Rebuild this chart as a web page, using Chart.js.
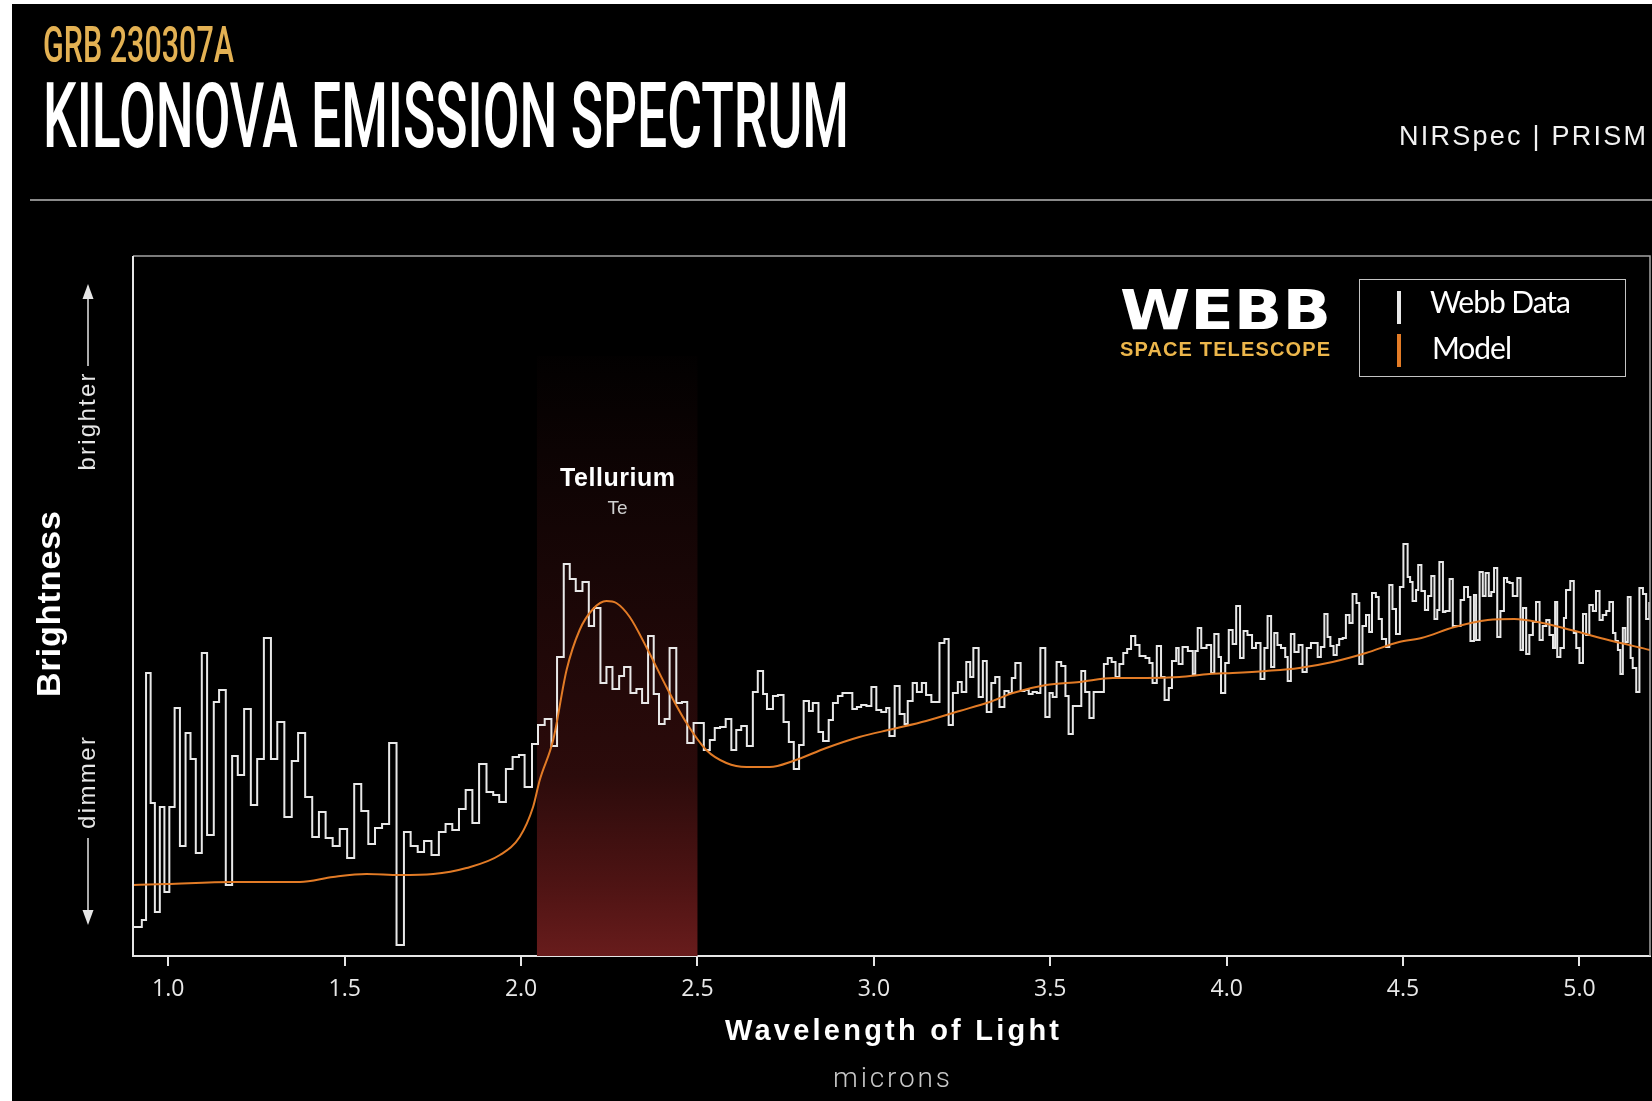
<!DOCTYPE html>
<html>
<head>
<meta charset="utf-8">
<title>Kilonova Emission Spectrum</title>
<script src="https://cdn.jsdelivr.net/npm/chart.js@4.4.1/dist/chart.umd.min.js"></script>
<style>
  html, body { margin: 0; padding: 0; width: 1652px; height: 1101px; overflow: hidden; background: #fff; }
  #panel { position: absolute; left: 12px; top: 4px; width: 1640px; height: 1097px; background: #000; }
  #chart { position: absolute; left: 0; top: 0; }
  .txt { position: absolute; white-space: nowrap; display: inline-block; }
  #rule { position: absolute; left: 30px; top: 199px; width: 1622px; height: 1.5px; background: #8a8a8a; }
  #legend { position: absolute; left: 1359px; top: 279px; width: 267px; height: 98px; box-sizing: border-box; border: 1.5px solid #c4c4c4; }
  .bar { position: absolute; left: 1397px; width: 4px; height: 33px; }
  #arrows { position: absolute; left: 0; top: 0; }
</style>
</head>
<body>
<div id="panel"></div>
<div id="rule"></div>
<canvas id="chart" width="1652" height="1101"></canvas>
<div id="legend"></div>
<div class="bar" id="barData" style="top:291px"></div>
<div class="bar" id="barModel" style="top:334px"></div>
<svg id="arrows" width="200" height="1000">
  <line x1="88" y1="297" x2="88" y2="366" stroke="#e6e6e6" stroke-width="1.5"/>
  <polygon points="88,284 82.5,299 93.5,299" fill="#e6e6e6"/>
  <line x1="88" y1="838" x2="88" y2="912" stroke="#e6e6e6" stroke-width="1.5"/>
  <polygon points="88,925 82.5,910 93.5,910" fill="#e6e6e6"/>
</svg>
<script>
// spectrum bins: left edge wavelength (microns) and brightness
const binWave = [
  0.901,0.925,0.937,0.950,0.962,0.976,0.989,1.003,1.018,1.033,
  1.049,1.063,1.078,1.095,1.110,1.129,1.144,1.163,1.181,1.197,
  1.215,1.234,1.252,1.271,1.291,1.309,1.329,1.350,1.368,1.388,
  1.408,1.427,1.446,1.466,1.486,1.507,1.527,1.547,1.567,1.586,
  1.606,1.626,1.647,1.668,1.687,1.707,1.725,1.746,1.767,1.786,
  1.805,1.824,1.843,1.862,1.881,1.902,1.921,1.938,1.957,1.976,
  1.994,2.010,2.031,2.048,2.067,
  2.086,2.102,2.121,2.138,2.155,2.174,2.192,2.207,2.225,2.242,
  2.259,2.278,2.292,2.310,2.327,2.343,2.360,2.376,2.391,2.407,
  2.421,2.440,2.456,2.471,2.489,2.503,2.518,2.535,2.549,2.564,
  2.580,2.596,2.610,2.624,2.640,2.657,2.671,
  2.686,2.697,2.714,2.728,2.744,2.759,2.773,2.788,2.801,2.816,
  2.827,2.843,2.856,2.872,2.884,2.898,2.911,2.925,2.939,2.952,
  2.964,2.979,2.993,3.007,3.021,3.035,3.044,3.059,3.073,3.087,
  3.096,3.110,3.122,3.136,3.148,3.163,3.175,3.186,3.200,3.212,
  3.224,3.238,3.249,3.262,3.273,3.282,3.297,3.309,
  3.320,3.333,3.344,3.356,3.370,3.382,3.391,3.401,3.416,3.427,
  3.439,3.450,3.462,3.472,3.486,3.498,3.507,3.518,3.531,3.543,
  3.552,3.564,3.576,3.588,3.599,3.611,3.623,3.637,3.652,3.663,
  3.674,3.685,3.696,3.707,3.718,3.729,3.741,3.753,3.770,3.781,
  3.790,3.802,3.814,3.824,3.836,3.845,3.857,3.864,3.875,3.890,
  3.904,3.911,3.918,
  3.928,3.943,3.956,3.965,3.977,3.984,3.996,4.006,4.017,4.027,
  4.038,4.048,4.059,4.072,4.083,4.096,4.107,4.116,4.126,4.135,
  4.144,4.154,4.166,4.173,4.182,4.192,4.204,4.215,4.227,4.239,
  4.248,4.258,4.267,4.277,4.286,4.294,4.303,4.312,4.319,4.329,
  4.338,4.348,4.357,4.368,4.376,4.385,4.395,4.404,4.412,4.423,
  4.431,4.440,4.452,4.461,4.470,4.480,4.491,4.501,4.513,4.520,
  4.527,4.537,4.543,4.552,4.562,4.571,
  4.580,4.589,4.597,4.603,4.613,4.620,4.632,4.641,4.663,4.673,
  4.684,4.691,4.701,4.707,4.717,4.726,4.734,4.743,4.750,4.758,
  4.767,4.776,4.786,4.795,4.802,4.811,4.824,4.833,4.840,4.849,
  4.858,4.868,4.877,4.887,4.896,4.906,4.915,4.925,4.931,4.937,
  4.946,4.956,4.962,4.974,4.984,4.991,5.000,5.010,5.019,5.028,
  5.038,5.047,5.057,5.066,5.076,5.085,5.095,5.102,5.109,5.116,
  5.123,5.130,5.137,5.145,5.151,5.161,5.170,5.180,5.189,5.198,
  5.200
];
const binFlux = [
  29,36,283,153,44,149,64,149,248,110,
  223,197,103,303,121,254,266,71,200,181,
  247,151,197,318,197,234,139,195,223,159,
  119,144,118,110,127,98,172,145,112,128,
  132,213,11,124,110,104,115,101,124,132,
  126,147,166,133,192,164,161,154,187,199,
  201,169,212,231,237,
  210,299,392,377,365,374,330,348,273,289,
  267,280,289,263,267,253,320,262,232,237,
  308,253,254,213,233,233,206,216,228,229,
  237,206,226,230,210,264,285,
  262,247,260,261,234,214,187,211,255,245,
  253,224,215,236,253,260,263,263,247,249,
  251,250,269,246,244,248,220,270,242,232,
  255,273,264,273,261,254,254,313,317,231,
  263,274,264,294,279,308,259,295,
  244,273,279,249,265,263,278,293,265,266,
  262,264,263,308,239,263,259,294,290,260,
  222,250,250,285,264,238,264,264,292,298,
  294,279,292,303,307,320,311,300,298,293,
  273,310,279,256,268,295,308,292,309,305,
  282,305,328,
  308,311,283,322,299,263,293,326,312,350,
  298,325,321,308,313,277,308,340,289,323,
  311,308,299,275,322,304,311,284,308,313,
  313,299,309,342,319,310,301,311,317,318,
  341,333,362,353,292,330,341,324,363,359,
  337,317,309,371,347,322,369,412,379,374,
  355,366,391,365,346,360,
  380,337,346,394,344,345,377,330,356,369,
  359,315,361,316,384,360,383,360,364,388,
  319,345,378,374,373,360,378,306,348,302,
  321,334,354,316,330,336,321,308,354,299,
  308,338,366,375,323,308,293,342,321,351,
  345,365,336,341,345,354,323,315,306,282,
  328,314,359,298,288,264,368,362,337,353,
  353
];

// model curve
const modelWave = [0.901,0.995,1.184,1.373,1.467,1.562,1.656,1.751,1.845,1.940,1.996,2.034,2.053,2.091,2.129,2.166,2.204,2.242,2.270,2.308,2.355,2.412,2.469,2.525,2.582,2.639,2.705,2.771,2.865,2.959,3.054,3.148,3.243,3.328,3.394,3.488,3.583,3.677,3.772,3.866,3.951,4.017,4.112,4.206,4.300,4.395,4.489,4.552,4.646,4.740,4.816,4.882,4.976,5.071,5.200];
const modelFlux = [71,72,74,74,79,82,81,82,88,101,119,149,176,216,286,326,347,355,353,339,309,269,233,206,193,189,189,195,208,219,227,235,245,254,263,271,274,278,278,279,282,283,285,288,294,303,314,318,329,336,337,334,326,317,306];

const tickValues = [1.0, 1.5, 2.0, 2.5, 3.0, 3.5, 4.0, 4.5, 5.0];
const telluriumBand = [2.045, 2.5];
const bandTop = 600;

const dataColor = '#e8e8e8';
const modelColor = '#e27b26';
document.getElementById('barData').style.background = dataColor;
document.getElementById('barModel').style.background = modelColor;

const bandPlugin = {
  id: 'band',
  beforeDatasetsDraw(chart) {
    const {ctx, chartArea, scales: {x, y}} = chart;
    const x1 = x.getPixelForValue(telluriumBand[0]);
    const x2 = x.getPixelForValue(telluriumBand[1]);
    const yTop = y.getPixelForValue(bandTop);
    const g = ctx.createLinearGradient(0, yTop, 0, chartArea.bottom);
    g.addColorStop(0, 'rgba(104,26,26,0.02)');
    g.addColorStop(0.3, 'rgba(104,26,26,0.2)');
    g.addColorStop(0.7, 'rgba(104,26,26,0.42)');
    g.addColorStop(0.88, 'rgba(104,26,26,0.75)');
    g.addColorStop(1, 'rgba(104,28,28,1)');
    ctx.save();
    ctx.fillStyle = g;
    ctx.fillRect(x1, yTop, x2 - x1, chartArea.bottom - yTop);
    ctx.restore();
  }
};

const framePlugin = {
  id: 'frame',
  afterDatasetsDraw(chart) {
    const {ctx, chartArea: a} = chart;
    ctx.save();
    ctx.strokeStyle = '#a4a4a4';
    ctx.lineWidth = 1.5;
    ctx.beginPath();
    ctx.moveTo(a.left, a.top);
    ctx.lineTo(a.right, a.top);
    ctx.lineTo(a.right, a.bottom);
    ctx.stroke();
    ctx.strokeStyle = '#e6e6e6';
    ctx.lineWidth = 2;
    ctx.beginPath();
    ctx.moveTo(a.left, a.top);
    ctx.lineTo(a.left, a.bottom + 1);
    ctx.stroke();
    ctx.restore();
  }
};

new Chart(document.getElementById('chart'), {
  type: 'line',
  data: {
    datasets: [
      {
        label: 'Model',
        data: modelWave.map((w, i) => ({x: w, y: modelFlux[i]})),
        borderColor: modelColor,
        borderWidth: 2,
        pointRadius: 0,
        cubicInterpolationMode: 'monotone',
        order: 0
      },
      {
        label: 'Webb Data',
        data: binWave.map((w, i) => ({x: w, y: binFlux[i]})),
        borderColor: dataColor,
        borderWidth: 2,
        pointRadius: 0,
        stepped: true,
        order: 1
      }
    ]
  },
  options: {
    responsive: false,
    animation: false,
    layout: { padding: { left: 133, top: 256, right: 2, bottom: 85 } },
    plugins: { legend: { display: false }, tooltip: { enabled: false } },
    scales: {
      x: {
        type: 'linear',
        min: 0.9,
        max: 5.2,
        afterBuildTicks: s => { s.ticks = tickValues.map(v => ({value: v})); },
        afterFit: s => { s.height = 60; },
        grid: { drawOnChartArea: false, drawTicks: true, tickLength: 10, color: '#e6e6e6', lineWidth: 2 },
        border: { display: true, color: '#e6e6e6', width: 2 },
        ticks: {
          color: '#e8e8e8',
          font: { family: "'Open Sans', sans-serif", size: 23 },
          padding: 10,
          maxRotation: 0,
          autoSkip: false,
          callback: v => Number(v).toFixed(1)
        }
      },
      y: { display: false, min: 0, max: 700 }
    }
  },
  plugins: [bandPlugin, framePlugin]
});

// ---- text ----
function baseOf(el) {
  const p = document.createElement('span');
  p.style.cssText = 'display:inline-block;width:0;height:0;';
  el.appendChild(p);
  const off = p.getBoundingClientRect().top - el.getBoundingClientRect().top;
  p.remove();
  return off;
}

function makeText(o) {
  const el = document.createElement('div');
  el.className = 'txt';
  el.textContent = o.t;
  el.style.font = o.font;
  el.style.lineHeight = '1';
  el.style.color = o.color || '#fff';
  document.body.appendChild(el);
  let w = el.getBoundingClientRect().width;
  if (o.w && o.fit === 'spacing') {
    el.style.letterSpacing = ((o.w - w) / (o.t.length - 1)) + 'px';
    w = o.w;
  }
  return [el, w];
}

function putText(o) {
  const [el, w0] = makeText(o);
  let w = w0;
  const b = baseOf(el);
  if (o.w && o.fit === 'scale') {
    el.style.transformOrigin = '0 0';
    el.style.transform = 'scaleX(' + (o.w / w0) + ')';
    w = o.w;
  }
  let left = o.x;
  if (o.align === 'center') left = o.x - w / 2;
  if (o.align === 'right') left = o.x - w;
  el.style.left = left + 'px';
  el.style.top = (o.base - b) + 'px';
}

function putRotated(o) {
  const [el, w] = makeText(o);
  const h = el.getBoundingClientRect().height;
  const b = baseOf(el);
  const size = parseFloat(o.font.match(/(\d+(\.\d+)?)px/)[1]);
  const d = (b - 0.716 * size / 2) - h / 2;
  el.style.transformOrigin = (w / 2) + 'px ' + (h / 2) + 'px';
  el.style.left = (o.cx - d - w / 2) + 'px';
  el.style.top = (o.cy - h / 2) + 'px';
  el.style.transform = 'rotate(-90deg)';
}

[
  {t: 'GRB 230307A', font: '500 50px Roboto', color: '#e3b153', x: 43, base: 62, w: 191, fit: 'scale'},
  {t: 'KILONOVA EMISSION SPECTRUM', font: '500 91px Roboto', x: 43, base: 147, w: 806, fit: 'scale'},
  {t: 'NIRSpec | PRISM', font: '400 27px "Liberation Sans"', color: '#f2f2f2', x: 1646, base: 145, w: 247, fit: 'spacing', align: 'right'},
  {t: 'WEBB', font: '700 55px "DejaVu Sans"', x: 1120, base: 329, w: 211, fit: 'scale'},
  {t: 'SPACE TELESCOPE', font: '700 20px "Liberation Sans"', color: '#ecb64b', x: 1120, base: 356, w: 210, fit: 'spacing'},
  {t: 'Webb Data', font: '400 30px Lato', x: 1430, base: 313, w: 141, fit: 'spacing'},
  {t: 'Model', font: '400 30px Lato', x: 1432, base: 359, w: 80, fit: 'spacing'},
  {t: 'Tellurium', font: '700 25px "Liberation Sans"', x: 617.5, base: 486, w: 115, fit: 'spacing', align: 'center'},
  {t: 'Te', font: '400 19px "Liberation Sans"', color: '#d0d0d0', x: 617.5, base: 514, align: 'center'},
  {t: 'Wavelength of Light', font: '700 29px "Liberation Sans"', x: 892, base: 1040, w: 334, fit: 'spacing', align: 'center'},
  {t: 'microns', font: '300 28px Roboto', color: '#c8c8c8', x: 891.5, base: 1087, w: 117, fit: 'spacing', align: 'center'}
].forEach(putText);

[
  {t: 'Brightness', font: '700 34px "Liberation Sans"', cx: 48, cy: 604, w: 186, fit: 'spacing'},
  {t: 'brighter', font: '400 24px "Liberation Sans"', color: '#e6e6e6', cx: 86, cy: 422, w: 97, fit: 'spacing'},
  {t: 'dimmer', font: '400 24px "Liberation Sans"', color: '#e6e6e6', cx: 86, cy: 783, w: 92, fit: 'spacing'}
].forEach(putRotated);
</script>
</body>
</html>
